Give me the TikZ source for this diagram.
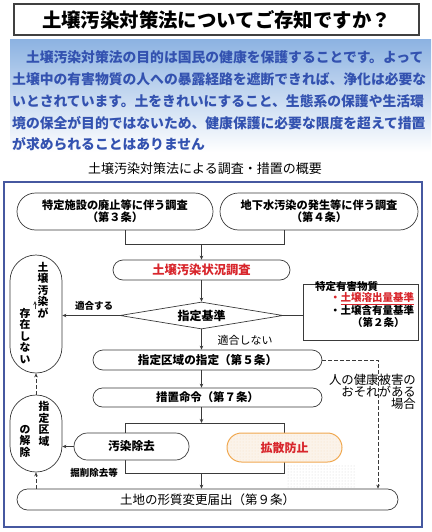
\documentclass[tikz,border=0pt]{standalone}
\usepackage{fontspec}
\newfontfamily\jp{Noto Sans CJK JP}
\usetikzlibrary{arrows.meta,positioning,shapes.geometric,patterns}
\definecolor{frameblue}{HTML}{4658A0}
\definecolor{textblue}{HTML}{3352B0}
\definecolor{skyblue}{HTML}{8DB3E2}
\definecolor{boxline}{HTML}{3A3A3A}
\definecolor{titlegray}{HTML}{404040}
\definecolor{alertred}{HTML}{D8262C}
\definecolor{warnorange}{HTML}{F0A850}
\definecolor{sand}{HTML}{FBF3EA}
\newcommand\fsz[2]{\fontsize{#1}{#2}\selectfont}

\begin{document}
\begin{tikzpicture}[x=1pt,y=-1pt,
  font=\jp\bfseries,
  pill/.style={draw=boxline,line width=0.7pt,fill=white,align=center,inner sep=0pt},
  vcol/.style={align=center,inner sep=0pt,font=\jp\bfseries\fsz{10.8}{11.5}},
  lbl/.style={inner sep=0pt},
  arr/.style={-{Stealth[length=4pt,width=3.5pt]},boxline,line width=0.7pt},
  darr/.style={arr,dash pattern=on 3.5pt off 2.5pt,line width=0.9pt}]
\useasboundingbox (0,0) rectangle (431,532);

% heading and intro
\node[draw=titlegray,line width=2pt,minimum width=405pt,minimum height=31pt,
  inner sep=0pt,font=\jp\bfseries\fsz{19.4}{22}] (title) at (216.5,20)
  {土壌汚染対策法についてご存知ですか？};
\shade[top color=skyblue,bottom color=white] (10,40) rectangle (431,152);
\node[anchor=west,align=left,lbl,text=textblue,font=\jp\bfseries\fsz{13.8}{21.8}]
  (intro) at (12,101)
  {\hspace*{13.8pt}土壌汚染対策法の目的は国民の健康を保護することです。よって\\
   土壌中の有害物質の人への暴露経路を遮断できれば、浄化は必要な\\
   いとされています。土をきれいにすること、生態系の保護や生活環\\
   境の保全が目的ではないため、健康保護に必要な限度を超えて措置\\
   が求められることはありません};
\node[lbl,font=\jp\mdseries\fsz{13}{15}] (subtitle) at (205,169)
  {土壌汚染対策法による調査・措置の概要};
\draw[frameblue,line width=1.2pt] (4,182) rectangle (422,527);

% flow
\node[pill,rounded corners=18.5pt,minimum width=196pt,minimum height=37pt,
  font=\jp\bfseries\fsz{11.2}{12}] (art3) at (115,211.5)
  {特定施設の廃止等に伴う調査\\（第３条）};
\node[pill,rounded corners=18.5pt,minimum width=198pt,minimum height=37pt,
  font=\jp\bfseries\fsz{11.2}{12}] (art4) at (319,211.5)
  {地下水汚染の発生等に伴う調査\\（第４条）};
\coordinate (join) at (201.5,244);
\draw[boxline,line width=0.7pt] (art3.south) ++(10,0) |- (join);
\draw[boxline,line width=0.7pt] (art4.south) ++(-35,0) |- (join);
\node[pill,rounded corners=10pt,minimum width=177pt,minimum height=20pt,
  text=alertred,font=\jp\bfseries\fsz{12.3}{14}] (survey) at (201.5,270)
  {土壌汚染状況調査};
\draw[arr] (join) -- (survey.north);
\node[draw=boxline,line width=0.7pt,diamond,aspect=6,minimum width=163pt,
  minimum height=27pt,inner sep=0pt,fill=white,font=\jp\bfseries\fsz{12}{14}]
  (crit) at (201.5,315.5) {指定基準};
\draw[arr] (survey.south) -- (crit.north);

\node[draw=boxline,line width=0.7pt,minimum width=115pt,minimum height=56pt,
  inner sep=0pt] (subst) at (360.5,312) {};
\node[anchor=west,align=left,lbl,font=\jp\bfseries\fsz{10.5}{11.3}]
  (substtext) at (315,304.5)
  {特定有害物質\\
   \hspace*{15pt}{\color{alertred}・\underline{土壌溶出量基準}}\\
   \hspace*{15pt}・土壌含有量基準\\
   \hspace*{37pt}（第２条）};
\draw[boxline,line width=0.7pt] (crit.east) -- (crit.east -| subst.west);

\node[pill,rounded corners=26pt,minimum width=52pt,minimum height=118pt]
  (nosoil) at (36,314) {};
\node[vcol] (nosoilA) at (43,290) {土\\壌\\汚\\染\\が};
\node[vcol] (nosoilB) at (25,336) {存\\在\\し\\な\\い};
\coordinate (tick) at (35,309);
\draw[arr] (tick) -- ++(0,-8);
\draw[arr] (crit.west) -- (crit.west -| nosoil.east);
\node[lbl,font=\jp\bfseries\fsz{9.5}{11}] (fitlbl) at (94,306) {適合する};
\node[lbl,font=\jp\mdseries\fsz{11}{13}] (unfitlbl) at (245,340) {適合しない};

\node[pill,rounded corners=10pt,minimum width=229pt,minimum height=20pt,
  font=\jp\bfseries\fsz{11.6}{13}] (desig) at (207.5,360)
  {指定区域の指定（第５条）};
\draw[arr] (crit.south) -- (crit.south |- desig.north);
\node[pill,rounded corners=9.5pt,minimum width=229pt,minimum height=19pt,
  font=\jp\bfseries\fsz{11.4}{13}] (order) at (207.5,397.5)
  {措置命令（第７条）};
\draw[arr] (desig.south -| crit.south) -- (order.north -| crit.south);

\fill[pattern=dots,pattern color=gray!35] (286,465) rectangle (356,490);
\coordinate (brtop) at (201.5,423);
\coordinate (brbot) at (201.5,473);
\draw[boxline,line width=0.7pt] (125,423) rectangle (284,473);
\draw[arr] (order.south -| brtop) -- (brtop);
\node[pill,rounded corners=13.5pt,minimum width=115pt,minimum height=27pt,
  font=\jp\bfseries\fsz{11.7}{13}] (removal) at (131.5,446.5) {汚染除去};
\node[draw=warnorange,line width=1pt,preaction={fill=sand},pattern=dots,
  pattern color=warnorange!35,rounded corners=14.5pt,minimum width=115pt,
  minimum height=29pt,inner sep=0pt,text=alertred,
  font=\jp\bfseries\fsz{12}{14}] (spread) at (284.5,447.5) {拡散防止};
\node[lbl,font=\jp\bfseries\fsz{9.5}{11}] (diglbl) at (94,473) {掘削除去等};

\node[pill,rounded corners=26pt,minimum width=52pt,minimum height=77pt]
  (release) at (36,433.5) {};
\node[vcol] (releaseA) at (44,424) {指\\定\\区\\域};
\node[vcol] (releaseB) at (25,441) {の\\解\\除};
\draw[arr] (removal.west) -- (removal.west -| release.east);

\node[pill,rounded corners=10.5pt,minimum width=381pt,minimum height=21pt,
  font=\jp\mdseries\fsz{12.5}{14}] (notify) at (207.5,499.5)
  {土地の形質変更届出（第９条）};
\draw[arr] (brbot) -- (brbot |- notify.north);
\draw[darr] (notify.north -| release.south) -- (release.south);
\draw[darr] (release.north) -- (nosoil.south);

\coordinate (bend) at (378,360);
\draw[darr] (desig.east) -- (bend) -- (bend |- notify.north);
\node[anchor=east,align=right,lbl,font=\jp\mdseries\fsz{12.4}{11.5}]
  (harmlbl) at (416,391.5) {人の健康被害の\\おそれがある\\場合};
\end{tikzpicture}
\end{document}
